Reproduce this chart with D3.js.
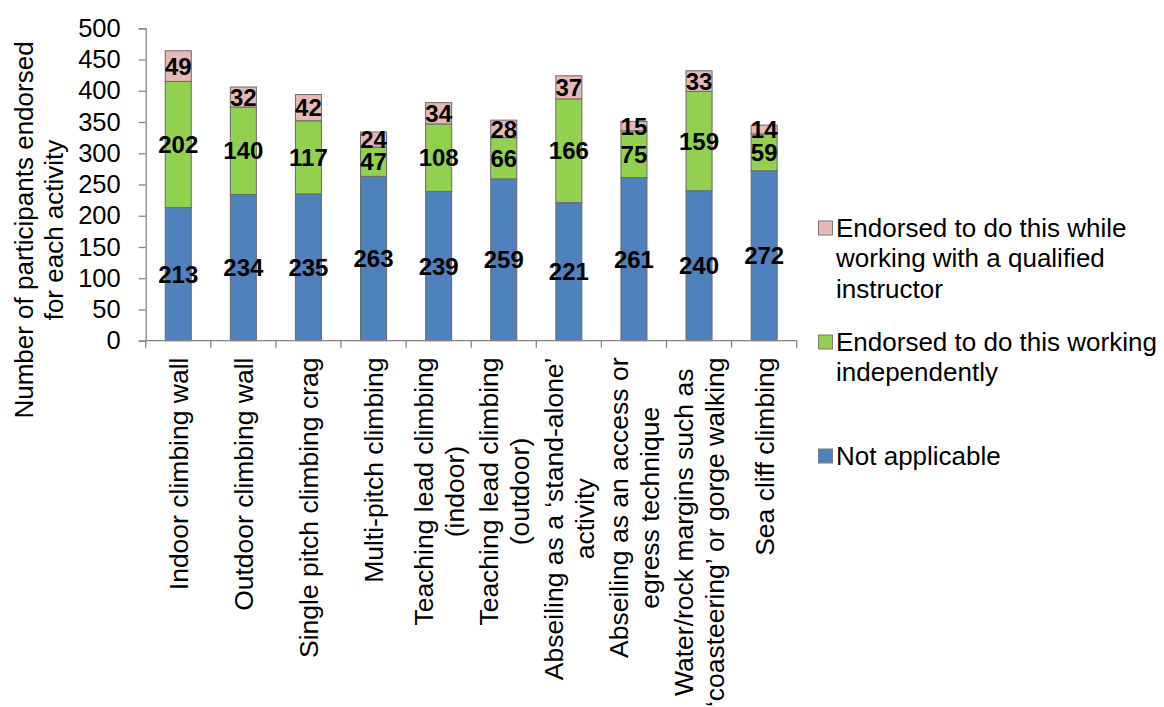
<!DOCTYPE html>
<html>
<head>
<meta charset="utf-8">
<script src="https://cdn.jsdelivr.net/npm/d3@7"></script>
<style>
  html, body { margin: 0; padding: 0; background: #fff; }
  svg { display: block; }
  text { font-family: "Liberation Sans", Arial, sans-serif; fill: #000; }
</style>
</head>
<body>
<svg id="chart" width="1164" height="707"></svg>
<script>
// ---- data ----
const categories = [
  ["Indoor climbing wall"],
  ["Outdoor climbing wall"],
  ["Single pitch climbing crag"],
  ["Multi-pitch climbing"],
  ["Teaching lead climbing", "(indoor)"],
  ["Teaching lead climbing", "(outdoor)"],
  ["Abseiling as a \u2018stand-alone\u2019", "activity"],
  ["Abseiling as an access or", "egress technique"],
  ["Water/rock margins such as", "\u2018coasteering\u2019 or gorge walking"],
  ["Sea cliff climbing"]
];
const notApplicable = [213, 234, 235, 263, 239, 259, 221, 261, 240, 272];
const independently = [202, 140, 117, 47, 108, 66, 166, 75, 159, 59];
const withInstructor = [49, 32, 42, 24, 34, 28, 37, 15, 33, 14];
const yTicks = [0, 50, 100, 150, 200, 250, 300, 350, 400, 450, 500];
const seriesNames = ["Not applicable", "Endorsed to do this working independently", "Endorsed to do this while working with a qualified instructor"];
const legendLines = [
  ["Endorsed to do this while", "working with a qualified", "instructor"],
  ["Endorsed to do this working", "independently"],
  ["Not applicable"]
];
const seriesColors = ["#4F81BD", "#92D050", "#E6B9B8"];

// ---- layout ----
const svg = d3.select("#chart");
const plot = { left: 145.7, right: 796.7, top: 28.3, bottom: 340.7 };
const fontSize = 26;

const catKeys = categories.map((c, i) => i);
const x = d3.scaleBand().domain(catKeys).range([plot.left, plot.right])
  .paddingInner(0.6).paddingOuter(0.3);
const y = d3.scaleLinear().domain([0, 500]).range([plot.bottom, plot.top]);

const rows = catKeys.map(i => ({ i, s0: notApplicable[i], s1: independently[i], s2: withInstructor[i] }));
const stack = d3.stack().keys(["s0", "s1", "s2"]);
const stacked = stack(rows);

// bars
const g = svg.append("g");
stacked.forEach((layer, li) => {
  g.selectAll(null).data(layer).enter().append("rect")
    .attr("x", d => x(d.data.i))
    .attr("width", x.bandwidth())
    .attr("y", d => y(d[1]))
    .attr("height", d => y(d[0]) - y(d[1]))
    .attr("fill", seriesColors[li])
    .attr("stroke", "#6a6a6a")
    .attr("stroke-width", 1);
});

// data labels
stacked.forEach((layer, li) => {
  g.selectAll(null).data(layer).enter().append("text")
    .attr("x", d => x(d.data.i) + x.bandwidth() / 2)
    .attr("y", d => y((d[0] + d[1]) / 2))
    .attr("dy", "0.36em")
    .attr("text-anchor", "middle")
    .attr("font-weight", "bold")
    .attr("font-size", 24)
    .text(d => d[1] - d[0]);
});

// y axis
const yAxis = d3.axisLeft(y).tickValues(yTicks).tickSize(7).tickPadding(18);
const yg = svg.append("g").attr("transform", `translate(${plot.left},0)`).call(yAxis);
yg.select(".domain").attr("stroke", "#868686").attr("stroke-width", 1.3);
yg.selectAll(".tick line").attr("stroke", "#868686").attr("stroke-width", 1.3);
yg.selectAll(".tick text").attr("font-size", 25.5).attr("font-family", "Liberation Sans, Arial, sans-serif").attr("fill", "#000");

// x axis line and boundary ticks
const step = x.step();
const boundaries = d3.range(categories.length + 1).map(k => plot.left + k * step);
svg.append("line")
  .attr("x1", plot.left).attr("x2", plot.right)
  .attr("y1", plot.bottom).attr("y2", plot.bottom)
  .attr("stroke", "#868686").attr("stroke-width", 1.3);
svg.selectAll(null).data(boundaries).enter().append("line")
  .attr("x1", d => d).attr("x2", d => d)
  .attr("y1", plot.bottom).attr("y2", plot.bottom + 7)
  .attr("stroke", "#868686").attr("stroke-width", 1.3);

// x labels (rotated)
const lineH = 31;
const labelTop = 357.5;
categories.forEach((lines, i) => {
  const cx = x(i) + x.bandwidth() / 2;
  const t = svg.append("g").attr("transform", `translate(${cx},${labelTop}) rotate(-90)`);
  const texts = lines.map((ln, k) => t.append("text")
    .attr("font-size", 26.5)
    .attr("text-anchor", "middle")
    .attr("y", (k - (lines.length - 1) / 2) * lineH)
    .attr("dy", "0.36em")
    .text(ln));
  const maxW = d3.max(texts, tx => tx.node().getComputedTextLength());
  texts.forEach(tx => tx.attr("x", -maxW / 2));
});

// y axis title
const yt = svg.append("g").attr("transform", `translate(39,230) rotate(-90)`);
["Number of participants endorsed", "for each activity"].forEach((ln, k) => {
  yt.append("text").attr("font-size", fontSize).attr("text-anchor", "middle")
    .attr("y", (k - 0.5) * 30).attr("dy", "0.36em").text(ln);
});

// legend
const legend = svg.append("g");
const legendColorOrder = [2, 1, 0];
legendLines.forEach((lines, k) => {
  const base = 236.5 + k * 114;
  legend.append("rect")
    .attr("x", 818.5).attr("y", base - 15.5)
    .attr("width", 14).attr("height", 14)
    .attr("fill", seriesColors[legendColorOrder[k]])
    .attr("stroke", "#7a7a7a").attr("stroke-width", 1);
  lines.forEach((ln, j) => {
    legend.append("text").attr("x", 836).attr("y", base + j * 30.5)
      .attr("font-size", fontSize).text(ln);
  });
});
</script>
</body>
</html>
